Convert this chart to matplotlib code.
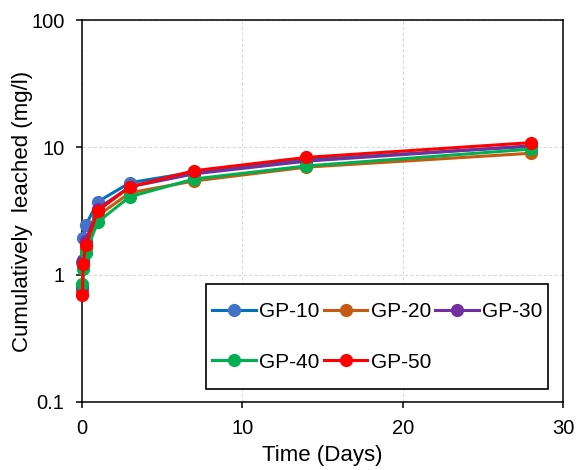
import numpy as np
import matplotlib
matplotlib.use("Agg")
import matplotlib.pyplot as plt
from matplotlib.patches import Rectangle
from matplotlib.ticker import FixedLocator, NullLocator, FuncFormatter

plt.rcParams['font.family'] = ['Liberation Sans', 'DejaVu Sans']

# leaching time (days) and cumulative leached amount (mg/l)
days = [0.042, 0.083, 0.25, 1, 3, 7, 14, 28]
gp10 = [1.25, 1.93, 2.45, 3.74, 5.28, 6.4, 8.0, 10.2]
gp20 = [0.75, 1.20, 1.60, 2.90, 4.40, 5.45, 7.0, 9.0]
gp30 = [0.80, 1.30, 1.85, 3.30, 4.90, 6.2, 7.8, 10.3]
gp40 = [0.85, 1.10, 1.49, 2.60, 4.10, 5.65, 7.15, 9.7]
gp50 = [0.69, 1.21, 1.71, 3.18, 4.90, 6.56, 8.35, 10.9]

names = ['GP-10', 'GP-20', 'GP-30', 'GP-40', 'GP-50']
series = [gp10, gp20, gp30, gp40, gp50]
line_cols = ['#0070C0', '#C55A11', '#7030A0', '#00B050', '#FF0000']
mark_cols = ['#4472C4', '#C55A11', '#7030A0', '#00B050', '#FF0000']

fig = plt.figure(figsize=(5.8, 4.7), dpi=100)
ax = fig.add_axes([0.141, 0.145, 0.830, 0.812])

handles = []
for name, vals, lc, mc in zip(names, series, line_cols, mark_cols):
    h, = ax.plot(days, vals, color=lc, lw=2.2, marker='o', ms=8.5,
                 markerfacecolor=mc, markeredgecolor=mc, label=name,
                 clip_on=False, zorder=3)
    handles.append(h)

ax.set_yscale('log')
ax.set_xlim(0, 30)
ax.set_ylim(0.1, 100)
ax.xaxis.set_major_locator(FixedLocator([0, 10, 20, 30]))
ax.yaxis.set_major_locator(FixedLocator([0.1, 1, 10, 100]))
ax.yaxis.set_minor_locator(NullLocator())
ax.yaxis.set_major_formatter(FuncFormatter(lambda v, p: '%g' % v))

ax.grid(True, color='#d9d9d9', ls=(0, (3, 2)), lw=0.8)
ax.set_axisbelow(True)
for s in ax.spines.values():
    s.set_linewidth(1.1)
    s.set_color('black')
ax.tick_params(direction='out', length=4.5, width=1.1, labelsize=14.5,
               colors='black')
ax.tick_params(axis='y', pad=8)
ax.tick_params(axis='x', pad=8)

ax.set_xlabel('Time (Days)', fontsize=16, labelpad=5)
ax.set_ylabel('Cumulatively  leached (mg/l)', fontsize=16)
ax.yaxis.set_label_coords(-0.101, 0.5)

# legend filled row by row: GP-10 GP-20 GP-30 / GP-40 GP-50
order = [0, 3, 1, 4, 2]
leg = ax.legend([handles[i] for i in order], [names[i] for i in order],
                ncol=3, loc='center left', bbox_to_anchor=(0.271, 0.170),
                fontsize=15, frameon=False,
                handlelength=2.1, handletextpad=0.15, columnspacing=0.2,
                labelspacing=1.5, borderpad=0, borderaxespad=0)
leg.set_zorder(5)
box = Rectangle((0.258, 0.034), 0.711, 0.275, transform=ax.transAxes,
                facecolor='white', edgecolor='black', lw=1.2, zorder=4)
ax.add_patch(box)

fig.savefig('out.png', dpi=100)
